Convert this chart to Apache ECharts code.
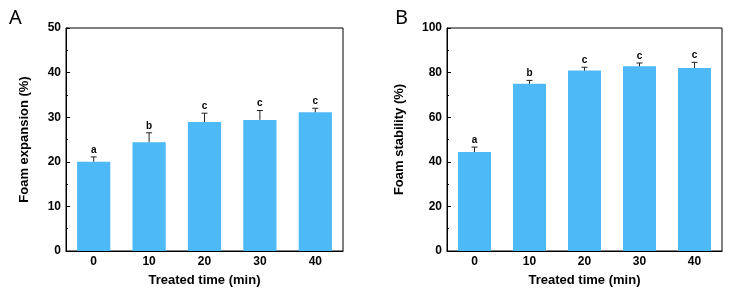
<!DOCTYPE html>
<html>
<head>
<meta charset="utf-8">
<script src="https://cdn.jsdelivr.net/npm/echarts@6/dist/echarts.min.js"></script>
<style>
  html, body { margin: 0; padding: 0; background: #fff; }
  #chart { width: 729px; height: 289px; }
</style>
</head>
<body>
<div id="chart"></div>
<script>
// treated time categories
const categories = ['0', '10', '20', '30', '40']

// panel A - foam expansion
const expansion = [20.0, 24.4, 28.9, 29.4, 31.1]
const expansionErr = [1.1, 2.1, 2.0, 2.1, 0.9]
const expansionLetters = ['a', 'b', 'c', 'c', 'c']

// panel B - foam stability
const stability = [44.4, 75.0, 80.9, 82.8, 82.1]
const stabilityErr = [2.2, 1.5, 1.5, 1.5, 2.5]
const stabilityLetters = ['a', 'b', 'c', 'c', 'c']

const barColor = '#4DBAF7'
const font = 'Liberation Sans, Arial, sans-serif'

const myChart = echarts.init(document.getElementById('chart'))

// error bar (upper half) + significance letter
const errorBarSeries = (values, errs, letters, idx) => ({
  type: 'custom',
  xAxisIndex: idx,
  yAxisIndex: idx,
  z: 5,
  data: values.map((v, i) => [i, v, v + errs[i]]),
  renderItem: function (params, api) {
    const base = api.coord([api.value(0), api.value(1)])
    const top = api.coord([api.value(0), api.value(2)])
    const cap = 3
    return {
      type: 'group',
      children: [
        { type: 'line', shape: { x1: base[0], y1: base[1], x2: top[0], y2: top[1] },
          style: { stroke: '#222', lineWidth: 1 } },
        { type: 'line', shape: { x1: top[0] - cap, y1: top[1], x2: top[0] + cap, y2: top[1] },
          style: { stroke: '#222', lineWidth: 1 } },
        { type: 'text', x: top[0], y: top[1] - 2,
          style: { text: letters[params.dataIndex], fill: '#000', font: 'bold 10px ' + font,
                   align: 'center', verticalAlign: 'bottom' } }
      ]
    }
  }
})

const yAxisStyle = (max, interval, name, gap) => ({
  type: 'value',
  min: 0,
  max: max,
  interval: interval,
  name: name,
  nameLocation: 'middle',
  nameGap: gap,
  nameTextStyle: { fontFamily: font, fontWeight: 'bold', fontSize: 13, color: '#000' },
  axisLine: { show: true, lineStyle: { color: '#000', width: 1 } },
  axisTick: { show: true, inside: true, length: 4, lineStyle: { color: '#000' } },
  minorTick: { show: true, splitNumber: 2, length: 2, lineStyle: { color: '#000' } },
  splitLine: { show: false },
  axisLabel: { fontFamily: font, fontWeight: 'bold', fontSize: 12, color: '#000', margin: 5 }
})

const xAxisStyle = (idx) => ({
  type: 'category',
  gridIndex: idx,
  data: categories,
  name: 'Treated time (min)',
  nameLocation: 'middle',
  nameGap: 23,
  nameTextStyle: { fontFamily: font, fontWeight: 'bold', fontSize: 13, color: '#000' },
  axisLine: { show: true, lineStyle: { color: '#000', width: 1 } },
  axisTick: { show: false },
  axisLabel: { fontFamily: font, fontWeight: 'bold', fontSize: 12, color: '#000', margin: 5 }
})

myChart.setOption({
  animation: false,
  title: [
    { text: 'A', left: 4, top: 3, textStyle: { fontFamily: 'Noto Sans, sans-serif', fontWeight: 'normal', fontSize: 20, color: '#000' } },
    { text: 'B', left: 390, top: 3, textStyle: { fontFamily: 'Noto Sans, sans-serif', fontWeight: 'normal', fontSize: 20, color: '#000' } }
  ],
  grid: [
    { left: 66, right: 386, top: 28, bottom: 38, outerBoundsMode: 'none', containLabel: false,
      show: true, borderColor: '#000', borderWidth: 1, backgroundColor: 'transparent' },
    { left: 447, right: 7, top: 28, bottom: 38, outerBoundsMode: 'none', containLabel: false,
      show: true, borderColor: '#000', borderWidth: 1, backgroundColor: 'transparent' }
  ],
  xAxis: [xAxisStyle(0), xAxisStyle(1)],
  yAxis: [
    Object.assign(yAxisStyle(50, 10, 'Foam expansion (%)', 35), { gridIndex: 0 }),
    Object.assign(yAxisStyle(100, 20, 'Foam stability (%)', 41), { gridIndex: 1 })
  ],
  series: [
    { type: 'bar', xAxisIndex: 0, yAxisIndex: 0, data: expansion, barWidth: '60%', itemStyle: { color: barColor } },
    errorBarSeries(expansion, expansionErr, expansionLetters, 0),
    { type: 'bar', xAxisIndex: 1, yAxisIndex: 1, data: stability, barWidth: '60%', itemStyle: { color: barColor } },
    errorBarSeries(stability, stabilityErr, stabilityLetters, 1)
  ]
})
</script>
</body>
</html>
